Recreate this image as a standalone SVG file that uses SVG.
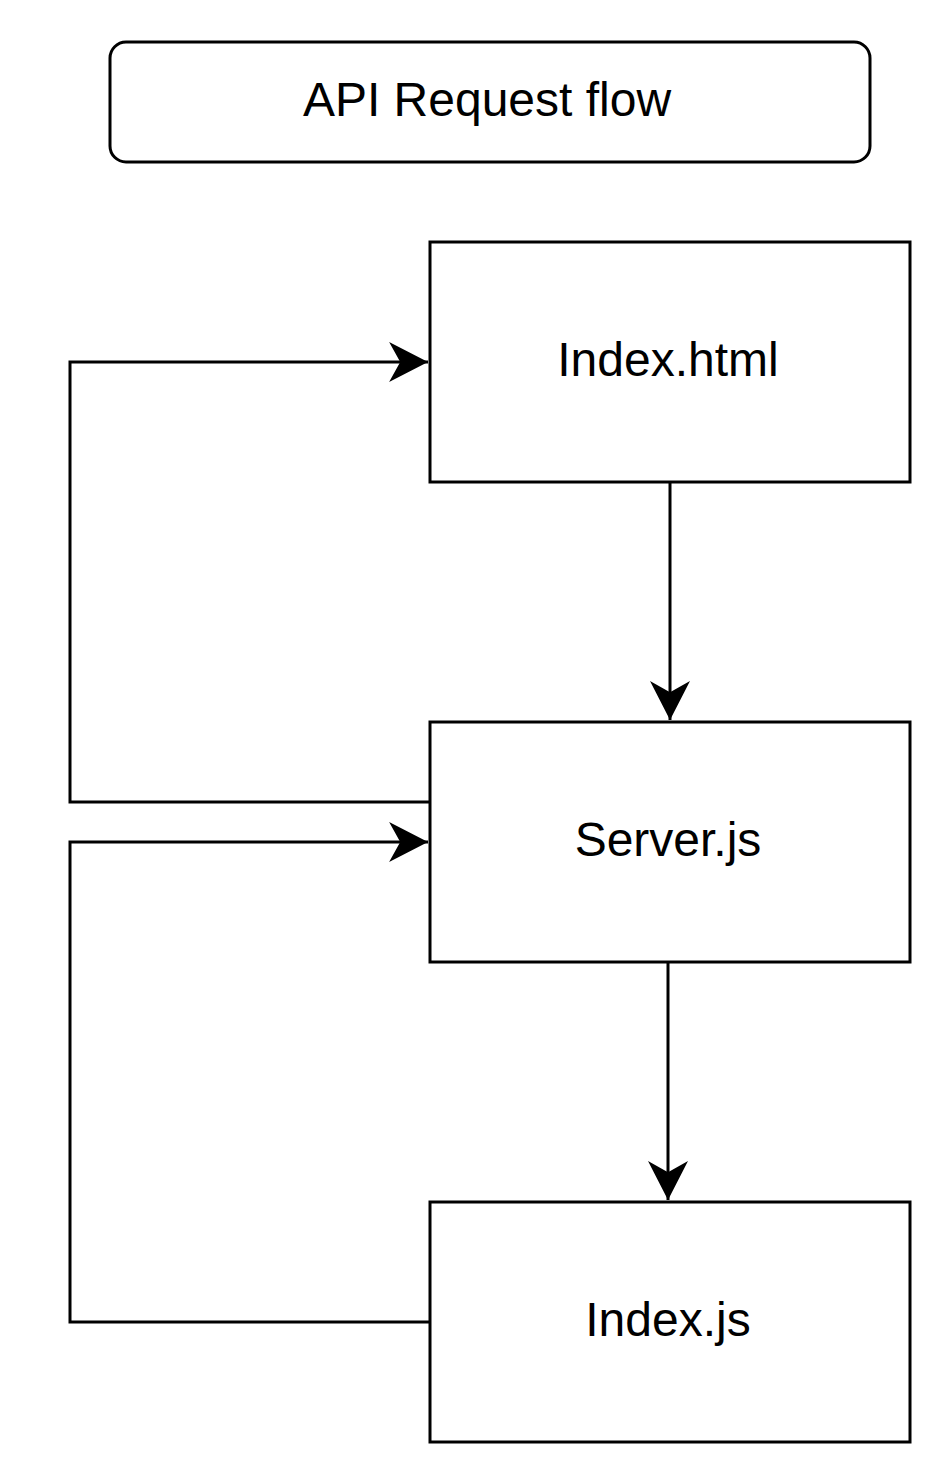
<svg xmlns="http://www.w3.org/2000/svg" width="952" height="1484" viewBox="0 0 952 1484">
<style>
.box{fill:#fff;stroke:#000;stroke-width:3}
.lbl{font-family:"Liberation Sans",Arial,sans-serif;font-size:48px;fill:#000;text-anchor:middle}
.edge{fill:none;stroke:#000;stroke-width:3}
</style>
<defs>
<marker id="arr" markerUnits="userSpaceOnUse" markerWidth="40" markerHeight="40" viewBox="0 0 36 36" refX="35" refY="18" orient="auto">
<path d="M0,0 L35,18 L0,36 L10,18 Z" fill="#000"/>
</marker>
</defs>
<rect width="952" height="1484" fill="#fff"/>
<g id="title">
<rect class="box" x="110" y="42" width="760" height="120" rx="16" ry="16"/>
<text class="lbl" x="487" y="116">API Request flow</text>
</g>
<g id="index-html">
<rect class="box" x="430" y="242" width="480" height="240"/>
<text class="lbl" x="668" y="376">Index.html</text>
</g>
<g id="server-js">
<rect class="box" x="430" y="722" width="480" height="240"/>
<text class="lbl" x="668" y="856">Server.js</text>
</g>
<g id="index-js">
<rect class="box" x="430" y="1202" width="480" height="240"/>
<text class="lbl" x="668" y="1336">Index.js</text>
</g>
<g id="connectors">
<path class="edge" d="M670,482 L670,720" marker-end="url(#arr)"/>
<path class="edge" d="M668,962 L668,1200" marker-end="url(#arr)"/>
<path class="edge" d="M430,802 L70,802 L70,362 L428,362" marker-end="url(#arr)"/>
<path class="edge" d="M430,1322 L70,1322 L70,842 L428,842" marker-end="url(#arr)"/>
</g>
</svg>
